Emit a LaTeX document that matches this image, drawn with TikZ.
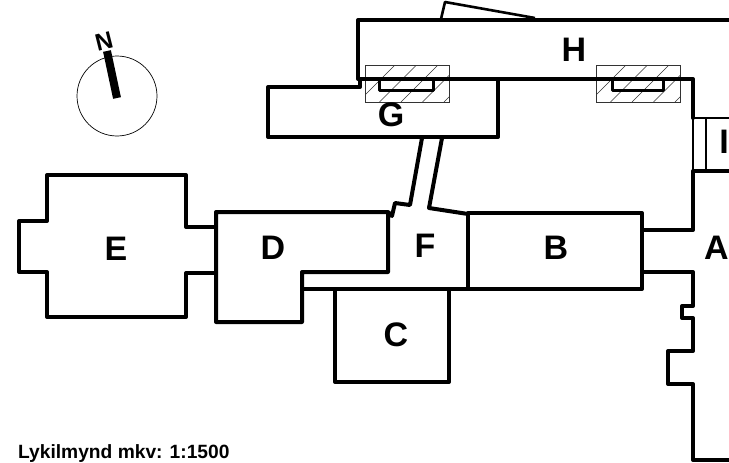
\documentclass[tikz,border=0pt]{standalone}
\usepackage{fontspec}
\setmainfont{Liberation Sans}
\usepackage{tikz}
\tikzset{wall/.style = {line width = 4pt, line join = round, line cap = round}}
\tikzset{thinwall/.style = {line width = 2.6pt, line join = round}}
\tikzset{hatchline/.style = {line width = 0.6pt, black!80}}
\tikzset{lbl/.style = {inner sep = 0, font = \fontsize{34}{34}\selectfont\bfseries}}
\newcommand{\hatchbox}[2]{%
  \begin{scope}
    \clip (#1, 65) rectangle (#2, 102);
    \foreach \i in {0, 1, ..., 5}
      \draw [hatchline] ({#1 - 7 + 21.5 * \i}, 102) -- ({#1 + 30 + 21.5 * \i}, 65);
  \end{scope}
  \draw [hatchline] (#1, 65) rectangle (#2, 102);
}

\begin{document}
\begin{tikzpicture}[x = 1pt, y = -1pt]
    \useasboundingbox (0, 0) rectangle (729, 463);
    \clip (0, 0) rectangle (729, 463);

    % compass
    \draw [line width = 0.7pt] (117, 96) circle [radius = 40];
    \draw [line width = 8pt] (117, 98) -- (107, 51);
    \node [inner sep = 0, rotate = 14, font = \fontsize{24}{24}\selectfont\bfseries] (north) at (104, 41) {N};

    % hatched strips under the wall
    \hatchbox{365}{449}
    \hatchbox{596}{680}

    % H
    \draw [wall] (693, 118) -- (693, 79) -- (358, 79) -- (358, 20) -- (729, 20);
    \draw [thinwall] (441, 19) -- (445, 2) -- (535, 18);
    \draw [wall, line width = 3pt] (379, 79) -- (379, 90) -- (433, 90) -- (433, 79);
    \draw [wall, line width = 3pt] (612, 79) -- (612, 90) -- (663, 90) -- (663, 79);

    % G
    \draw [wall] (360, 79) -- (360, 87) -- (268, 87) -- (268, 137) -- (498, 137) -- (498, 79);

    % I
    \draw [thinwall] (693, 118) -- (729, 118);
    \draw [thinwall] (693, 118) -- (693, 171);
    \draw [thinwall] (706, 118) -- (706, 171);

    % A
    \draw [wall] (729, 171) -- (693, 171) -- (693, 230) -- (642, 230);
    \draw [wall] (642, 272) -- (693, 272) -- (693, 306) -- (682, 306) -- (682, 318) -- (693, 318)
      -- (693, 351) -- (668, 351) -- (668, 384) -- (693, 384) -- (693, 460) -- (729, 460);

    % B
    \draw [wall] (468, 213) rectangle (642, 289);

    % C
    \draw [wall] (335, 289) -- (335, 382) -- (449, 382) -- (449, 289);

    % D and the passage to F
    \draw [wall] (442, 138) -- (429, 208) -- (468, 214);
    \draw [wall] (422, 138) -- (410, 205) -- (395, 203) -- (392, 216) -- (388, 212)
      -- (216, 212) -- (216, 322) -- (302, 322) -- (302, 272) -- (388, 272) -- (388, 212);
    \draw [wall] (302, 289) -- (468, 289);

    % E
    \draw [wall] (216, 227) -- (186, 227) -- (186, 175) -- (47, 175) -- (47, 221) -- (19, 221)
      -- (19, 272) -- (47, 272) -- (47, 317) -- (186, 317) -- (186, 273) -- (216, 273);

    \node [lbl] (labH) at (574, 50) {H};
    \node [lbl] (labG) at (391, 115) {G};
    \node [lbl] (labE) at (116, 249) {E};
    \node [lbl] (labD) at (273, 248) {D};
    \node [lbl] (labF) at (425, 246) {F};
    \node [lbl] (labB) at (556, 248) {B};
    \node [lbl] (labC) at (396, 335) {C};
    \node [lbl] (labA) at (716.5, 248) {A};
    \node [lbl] (labI) at (724, 142) {I};
    \node [inner sep = 0, anchor = base west, font = \fontsize{19.2}{20}\selectfont\bfseries] (scale) at (18, 458) {Lykilmynd mkv: 1:1500};
  \end{tikzpicture}
\end{document}
